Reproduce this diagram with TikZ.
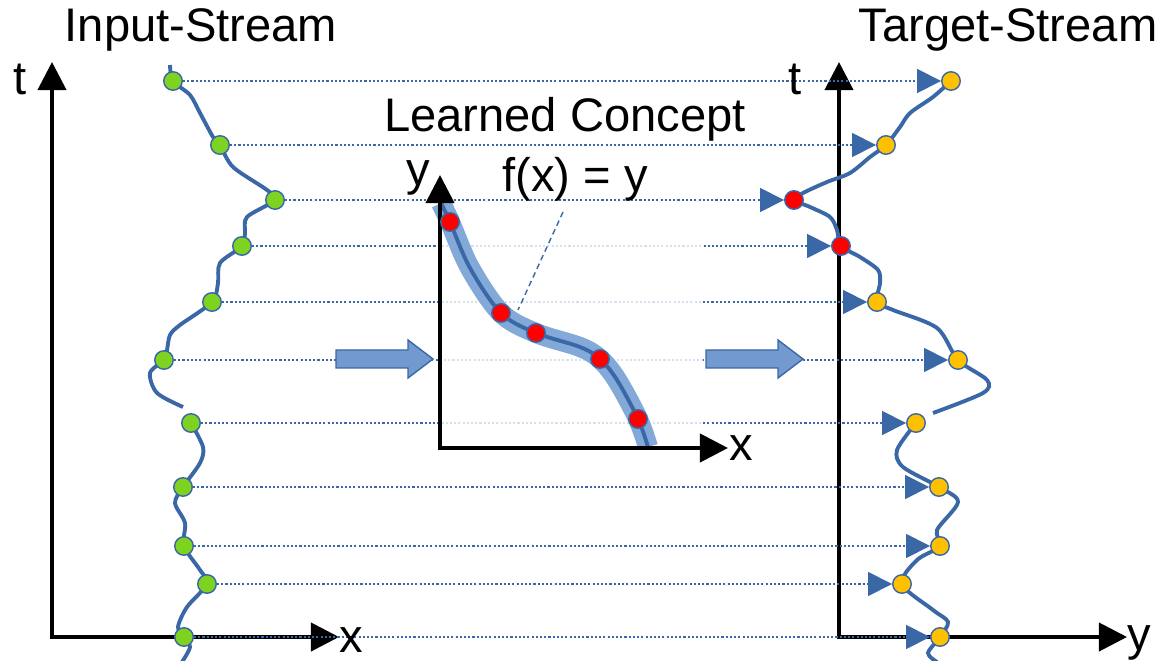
\documentclass[tikz,border=0pt]{standalone}
\usepackage{fontspec}
\setmainfont{Liberation Sans}
\usetikzlibrary{arrows.meta,backgrounds}
\definecolor{Stream_Blue}{HTML}{3A67A6}
\definecolor{Band_Blue}{HTML}{82A9D7}
\definecolor{Block_Blue}{HTML}{729ACF}
\definecolor{Dot_Green}{HTML}{7ED321}
\definecolor{Dot_Yellow}{HTML}{FFC000}
\definecolor{Dot_Red}{HTML}{FF0000}

\begin{document}
\begin{tikzpicture}[x=0.01cm, y=-0.01cm,
    font=\fontsize{13.4}{16}\selectfont,
    dotnode/.style={circle, inner sep=0pt, minimum size=0.185cm, draw=Stream_Blue, line width=0.4pt},
    axisline/.style={line width=1.1pt, line join=miter, {Triangle[length=8pt,width=8pt]}-{Triangle[length=8pt,width=8pt]}},
    rowline/.style={Stream_Blue, line width=0.45pt, dash pattern=on 0.6pt off 0.6pt, -{Triangle[length=6.8pt,width=6.8pt]}},
    streamline/.style={Stream_Blue, line width=1.1pt},
    blockarrow/.style={fill=Block_Blue, draw=Stream_Blue, line width=0.4pt},
    txt/.style={anchor=base, inner sep=0pt}]
    \useasboundingbox (0,0) rectangle (1161,661);

    % Titles
    \node[txt] (intitle) at (201,42) {Input-Stream};
    \node[txt] (outtitle) at (1008,42) {Target-Stream};
    \node[txt] (concepttitle) at (565,132) {Learned Concept};
    \node[txt] (fx) at (575,192) {f(x) = y};

    % Input samples
    \foreach \i/\x/\y in {1/173/81, 2/220/145, 3/275/200, 4/242/246, 5/212/302, 6/164/360,
                         7/191/423, 8/183/487, 9/184/546, 10/207/584, 11/184/637} {
        \node[dotnode, fill=Dot_Green] (in\i) at (\x,\y) {};
    }

    % Target samples
    \foreach \i/\x/\y/\c in {1/951/81/Dot_Yellow, 2/886/145/Dot_Yellow, 3/794/200/Dot_Red,
                            4/841/246/Dot_Red, 5/877/302/Dot_Yellow, 6/958/360/Dot_Yellow,
                            7/916/423/Dot_Yellow, 8/939/487/Dot_Yellow, 9/940/546/Dot_Yellow,
                            10/902/584/Dot_Yellow, 11/940/637/Dot_Yellow} {
        \node[dotnode, fill=\c] (out\i) at (\x,\y) {};
    }

    % Concept samples
    \foreach \i/\x/\y in {1/450/222, 2/501/313, 3/536/333, 4/600/359, 5/638/419} {
        \node[dotnode, fill=Dot_Red] (cp\i) at (\x,\y) {};
    }

    % Axes
    \coordinate (inO) at (52,637);
    \coordinate (inT) at (52,62);
    \coordinate (inX) at (339,637);
    \coordinate (outO) at (839,637);
    \coordinate (outT) at (839,62);
    \coordinate (outY) at (1127,637);
    \coordinate (cpO) at (440,448);
    \coordinate (cpY) at (440,175);
    \coordinate (cpX) at (728,448);
    \node[txt] (tin) at (20,95) {t};
    \node[txt] (xin) at (351,652) {x};
    \node[txt] (tout) at (795,95) {t};
    \node[txt] (yout) at (1139,650) {y};
    \node[txt] (ycp) at (418,186) {y};
    \node[txt] (xcp) at (741,460) {x};

    \begin{pgfonlayer}{background}
        \draw[axisline] (inT) -- (inO) -- (inX);
        \draw[axisline] (outT) -- (outO) -- (outY);

        % Mapping of every sample
        \foreach \i in {1,...,11} {
            \draw[rowline] (in\i) -- (out\i);
        }
        \fill[white, opacity=0.8] (442,212) rectangle (703,445);

        % Streams
        \draw[streamline] plot[smooth, tension=0.5] coordinates {(170,65) (173,81) (190,95) (200,113)
            (213,137) (220,145) (233,167) (267,190) (275,200) (247,217) (245,233) (242,246)
            (220,263) (218,283) (212,302) (180,325) (170,335) (167,350) (164,360) (150,373)
            (157,393) (183,407)};
        \draw[streamline] plot[smooth, tension=0.5] coordinates {(191,423) (203,447) (200,463)
            (183,487) (175,503) (185,523) (184,546) (200,570) (207,584) (187,607) (178,627)
            (184,637) (190,647) (182,662)};
        \draw[streamline] plot[smooth, tension=0.5] coordinates {(951,81) (933,97) (910,113)
            (900,127) (886,145) (870,157) (850,173) (827,182) (803,193) (794,200) (810,207)
            (830,217) (837,230) (841,246) (860,257) (878,270) (880,283) (877,302) (893,310)
            (937,328) (958,360) (987,380) (983,393) (933,413)};
        \draw[streamline] plot[smooth, tension=0.5] coordinates {(916,423) (897,450) (903,467)
            (939,487) (958,502) (937,530) (940,546) (917,560) (902,584) (933,610) (948,622)
            (940,637) (928,653) (937,662)};

        % Learned function
        \draw[streamline, preaction={draw=Band_Blue, line width=5.7pt}] plot[smooth, tension=0.55]
            coordinates {(441,203) (450,222) (470,268) (501,313) (536,333) (580,347) (600,359)
            (617,380) (638,419) (648,447)};
        \draw[axisline] (cpY) -- (cpO) -- (cpX);
        \coordinate (fxfoot) at (563,212);
        \coordinate (fxtip) at (518,310);
        \draw[Stream_Blue, line width=0.4pt, dash pattern=on 1.6pt off 1.1pt] (fxfoot) -- (fxtip);

        % Block arrows
        \draw[blockarrow] (336,350) -- (408,350) -- (408,340) -- (433,359) -- (408,378)
            -- (408,368) -- (336,368) -- cycle;
        \draw[blockarrow] (706,350) -- (778,350) -- (778,340) -- (803,359) -- (778,378)
            -- (778,368) -- (706,368) -- cycle;
    \end{pgfonlayer}

\end{tikzpicture}
\end{document}
